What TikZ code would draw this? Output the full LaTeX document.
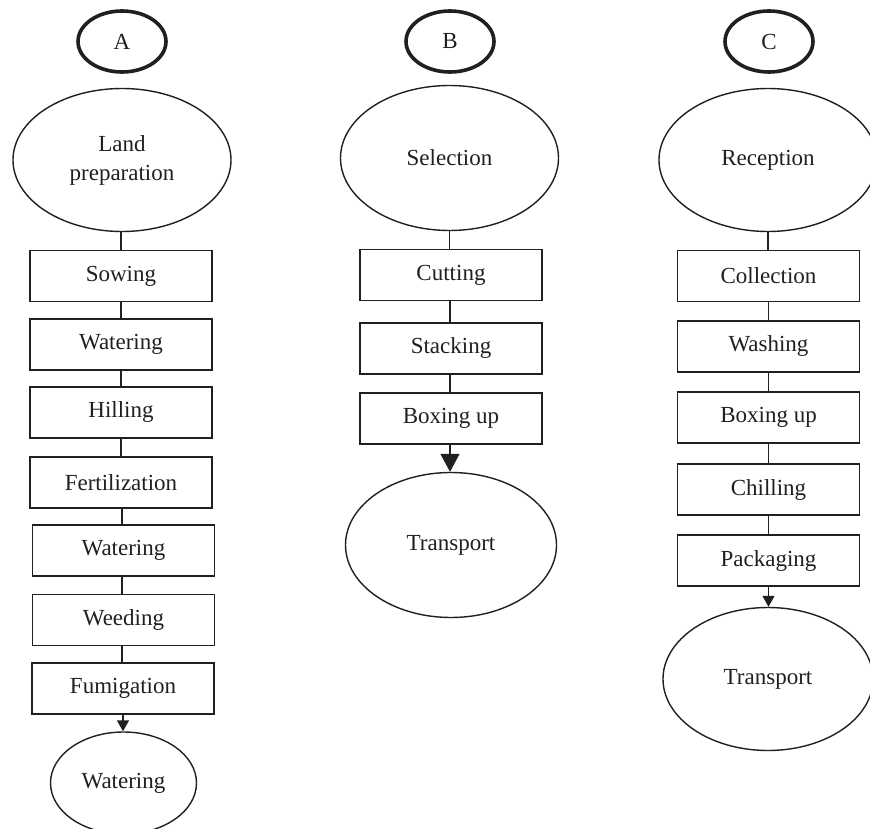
\documentclass[tikz,border=0pt]{standalone}
\usepackage{fontspec}
\setmainfont{Liberation Serif}
\usetikzlibrary{shapes.geometric,arrows.meta}
\definecolor{ink}{HTML}{231F20}
\begin{document}
\begin{tikzpicture}[x=1pt,y=-1pt,
  every node/.style={font=\fontsize{23}{29}\selectfont, text=ink},
  label/.style={ellipse, draw=ink, line width=3.6pt, inner sep=0pt, minimum width=88, minimum height=61},
  bigoval/.style={ellipse, draw=ink, line width=1.4pt, inner sep=0pt, align=center},
  stepbox/.style={rectangle, draw=ink, line width=1.4pt, inner sep=0pt, minimum width=182, minimum height=51},
  link/.style={draw=ink, line width=1.4pt},
  arrowlink/.style={draw=ink, line width=1.4pt, -{Triangle[length=11pt,width=12pt]}},
  bigarrow/.style={draw=ink, line width=1.4pt, -{Triangle[length=18pt,width=19pt]}}
]
\useasboundingbox (0,0) rectangle (870,829);
\fill[white] (0,0) rectangle (870,829);

% Column A
\node[label] (A) at (122,41.5) {A};
\node[bigoval, minimum width=218, minimum height=143] (a0) at (122,160) {Land\\preparation};
\node[stepbox] (a1) at (121,276) {Sowing};
\node[stepbox] (a2) at (121,344.5) {Watering};
\node[stepbox] (a3) at (121,412.5) {Hilling};
\node[stepbox] (a4) at (121,482.5) {Fertilization};
\node[stepbox] (a5) at (123.5,550.5) {Watering};
\node[stepbox] (a6) at (123.5,620) {Weeding};
\node[stepbox] (a7) at (123,688.5) {Fumigation};
\node[bigoval, minimum width=146, minimum height=102] (a8) at (123.5,783) {Watering};

\draw[link] ([xshift=-1pt]a0.south) -- ([xshift=-1pt]a0.south |- a1.north);
\draw[link] (a1.south) -- (a2.north);
\draw[link] (a2.south) -- (a3.north);
\draw[link] (a3.south) -- (a4.north);
\draw[link] ([xshift=1pt]a4.south) -- ([xshift=1pt]a4.south |- a5.north);
\draw[link] ([xshift=-1.5pt]a5.south) -- ([xshift=-1.5pt]a5.south |- a6.north);
\draw[link] ([xshift=-1.5pt]a6.south) -- ([xshift=-1.5pt]a6.south |- a7.north);
\draw[arrowlink] (a7.south) -- (a7.south |- a8.north);

% Column B
\node[label] (B) at (450,41.5) {B};
\node[bigoval, minimum width=218, minimum height=145] (b0) at (449.5,158) {Selection};
\node[stepbox] (b1) at (451,275) {Cutting};
\node[stepbox] (b2) at (451,348.5) {Stacking};
\node[stepbox] (b3) at (451,418.5) {Boxing up};
\node[bigoval, minimum width=211, minimum height=145] (b4) at (451,545) {Transport};

\draw[link] (b0.south) -- (b0.south |- b1.north);
\draw[link] ([xshift=-1pt]b1.south) -- ([xshift=-1pt]b1.south |- b2.north);
\draw[link] ([xshift=-1pt]b2.south) -- ([xshift=-1pt]b2.south |- b3.north);
\draw[bigarrow] ([xshift=-1pt]b3.south) -- ([xshift=-1pt]b3.south |- b4.north);

% Column C
\node[label] (C) at (769,41.5) {C};
\node[bigoval, minimum width=218, minimum height=143] (c0) at (768,160) {Reception};
\node[stepbox] (c1) at (768.5,276) {Collection};
\node[stepbox] (c2) at (768.5,346.5) {Washing};
\node[stepbox] (c3) at (768.5,417.5) {Boxing up};
\node[stepbox] (c4) at (768.5,489.5) {Chilling};
\node[stepbox] (c5) at (768.5,560.5) {Packaging};
\node[bigoval, minimum width=210, minimum height=143] (c6) at (768,679) {Transport};

\draw[link] (c0.south) -- (c0.south |- c1.north);
\draw[link] (c1.south) -- (c2.north);
\draw[link] (c2.south) -- (c3.north);
\draw[link] (c3.south) -- (c4.north);
\draw[link] (c4.south) -- (c5.north);
\draw[arrowlink] (c5.south) -- (c5.south |- c6.north);
\end{tikzpicture}
\end{document}
